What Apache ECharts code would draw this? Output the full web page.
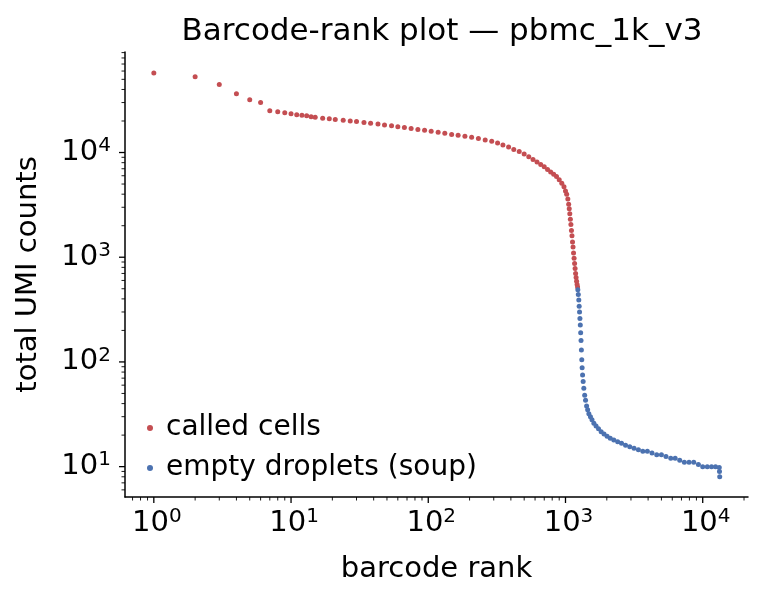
<!DOCTYPE html>
<html><head><meta charset="utf-8">
<script src="https://cdn.jsdelivr.net/npm/echarts@6/dist/echarts.min.js"></script>
<style>html,body{margin:0;padding:0;background:#fff}#c{width:763px;height:601px}</style>
</head><body><div id="c"></div>
<script>
const calledRank=[1,2,3,4,5,6,7,8,9,10,11,12,13,14,15,17,19,21,24,27,30,34,38,43,48,54,60,67,75,84,94,105,118,132,148,165,185,207,232,260,290,320,350,385,420,460,500,540,580,620,660,700,740,780,820,860,900,940,975,1000,1020,1040,1055,1065,1075,1085,1095,1105,1115,1125,1135,1145,1155,1165,1175,1185,1195,1205,1215,1225];
const calledUMI=[57500,53000,44700,36500,32000,30000,25000,24500,24000,23500,23000,22700,22400,22000,21700,21300,21000,20700,20300,20000,19800,19400,19000,18700,18300,18000,17600,17300,17000,16600,16300,16000,15600,15300,14900,14600,14300,14000,13600,13200,12800,12300,11800,11300,10700,10200,9700,9100,8600,8100,7700,7300,6900,6500,6200,5900,5500,5100,4700,4300,4000,3600,3200,2900,2600,2300,2050,1800,1600,1400,1250,1100,980,870,780,700,640,590,550,520];
const soupRank=[1230,1240,1250,1258,1266,1274,1282,1290,1298,1306,1314,1322,1332,1345,1360,1380,1400,1425,1450,1480,1520,1560,1610,1670,1740,1820,1910,2010,2120,2250,2400,2560,2740,2940,3160,3400,3660,3950,4270,4620,5000,5400,5850,6300,6800,7350,7950,8600,9300,10000,10800,11600,12400,13200,13250,13300];
const soupUMI=[490,440,390,340,300,260,225,190,160,130,105,88,75,65,56,48,43,38,35,32,30,28,26,24.5,23,21.5,20.5,19.5,18.7,18,17.3,16.7,16,15.5,15,14.5,14,14,13.5,13,13,12.5,12,12,11.5,11,11,11,10.5,10,10,10,10,9.8,9,8];
const XMIN=-0.21,XMAX=4.33,YMIN=0.71,YMAX=4.96;
const L=Math.log10;
const ticks=[];
for(let e=-1;e<=4;e++)for(let k=1;k<10;k++){const v=L(k*Math.pow(10,e));if(v>=XMIN&&v<=XMAX)ticks.push({value:[v,YMIN,0,k===1?1:0]});}
for(let e=0;e<=4;e++)for(let k=1;k<10;k++){const v=L(k*Math.pow(10,e));if(v>=YMIN&&v<=YMAX)ticks.push({value:[XMIN,v,1,k===1?1:0]});}
const chart=echarts.init(document.getElementById('c'));
const ff='DejaVu Sans';
const rich={b:{fontFamily:ff,fontSize:29,color:'#000'},s:{fontFamily:ff,fontSize:20,color:'#000',padding:[0,0,13,0]}};
chart.setOption({
  animation:false,
  title:{text:'Barcode-rank plot — pbmc_1k_v3',left:437,top:11,textAlign:'center',textStyle:{fontFamily:ff,fontSize:31,fontWeight:'normal',color:'#000'}},
  grid:{left:125,right:15,top:52,bottom:104},
  legend:{orient:'vertical',left:142,top:409,itemGap:12,itemWidth:6,itemHeight:6,icon:'circle',textStyle:{fontFamily:ff,fontSize:28,color:'#000',padding:[0,0,0,8]},data:['called cells','empty droplets (soup)']},
  xAxis:{type:'value',min:XMIN,max:XMAX,axisLine:{onZero:false,lineStyle:{color:'#000',width:1.5}},axisTick:{show:false},axisLabel:{show:false},splitLine:{show:false},
    name:'barcode rank',nameLocation:'middle',nameGap:58,nameTextStyle:{fontFamily:ff,fontSize:29,color:'#000'}},
  yAxis:{type:'value',min:YMIN,max:YMAX,axisLine:{show:true,onZero:false,lineStyle:{color:'#000',width:1.5}},axisTick:{show:false},axisLabel:{show:false},splitLine:{show:false},
    name:'total UMI counts',nameLocation:'middle',nameGap:82,nameTextStyle:{fontFamily:ff,fontSize:29,color:'#000'}},
  series:[
    {name:'called cells',type:'scatter',symbolSize:5,itemStyle:{color:'#c44e52',opacity:1},data:calledRank.map((r,i)=>[L(r),L(calledUMI[i])])},
    {name:'empty droplets (soup)',type:'scatter',symbolSize:5,itemStyle:{color:'#4c72b0',opacity:1},data:soupRank.map((r,i)=>[L(r),L(soupUMI[i])])},
    {type:'custom',silent:true,clip:false,legendHoverLink:false,data:ticks,
     renderItem:(p,api)=>{
       const v0=api.value(0),v1=api.value(1),isY=api.value(2),maj=api.value(3);
       const pt=api.coord([v0,v1]);const len=maj?6:3.5;
       const ch=[];
       if(!isY){
         ch.push({type:'line',shape:{x1:pt[0],y1:pt[1],x2:pt[0],y2:pt[1]+len},style:{stroke:'#000',lineWidth:maj?1.3:0.9}});
         if(maj){const e=Math.round(v0);ch.push({type:'text',x:pt[0]+3,y:pt[1]+10,style:{text:'{b|10}{s|'+e+'}',rich:rich,align:'center',verticalAlign:'top'}});}
       }else{
         ch.push({type:'line',shape:{x1:pt[0],y1:pt[1],x2:pt[0]-len,y2:pt[1]},style:{stroke:'#000',lineWidth:maj?1.3:0.9}});
         if(maj){const e=Math.round(v1);ch.push({type:'text',x:pt[0]-14,y:pt[1],style:{text:'{b|10}{s|'+e+'}',rich:rich,align:'right',verticalAlign:'middle'}});}
       }
       return {type:'group',children:ch};
     }}
  ]
});
</script></body></html>
